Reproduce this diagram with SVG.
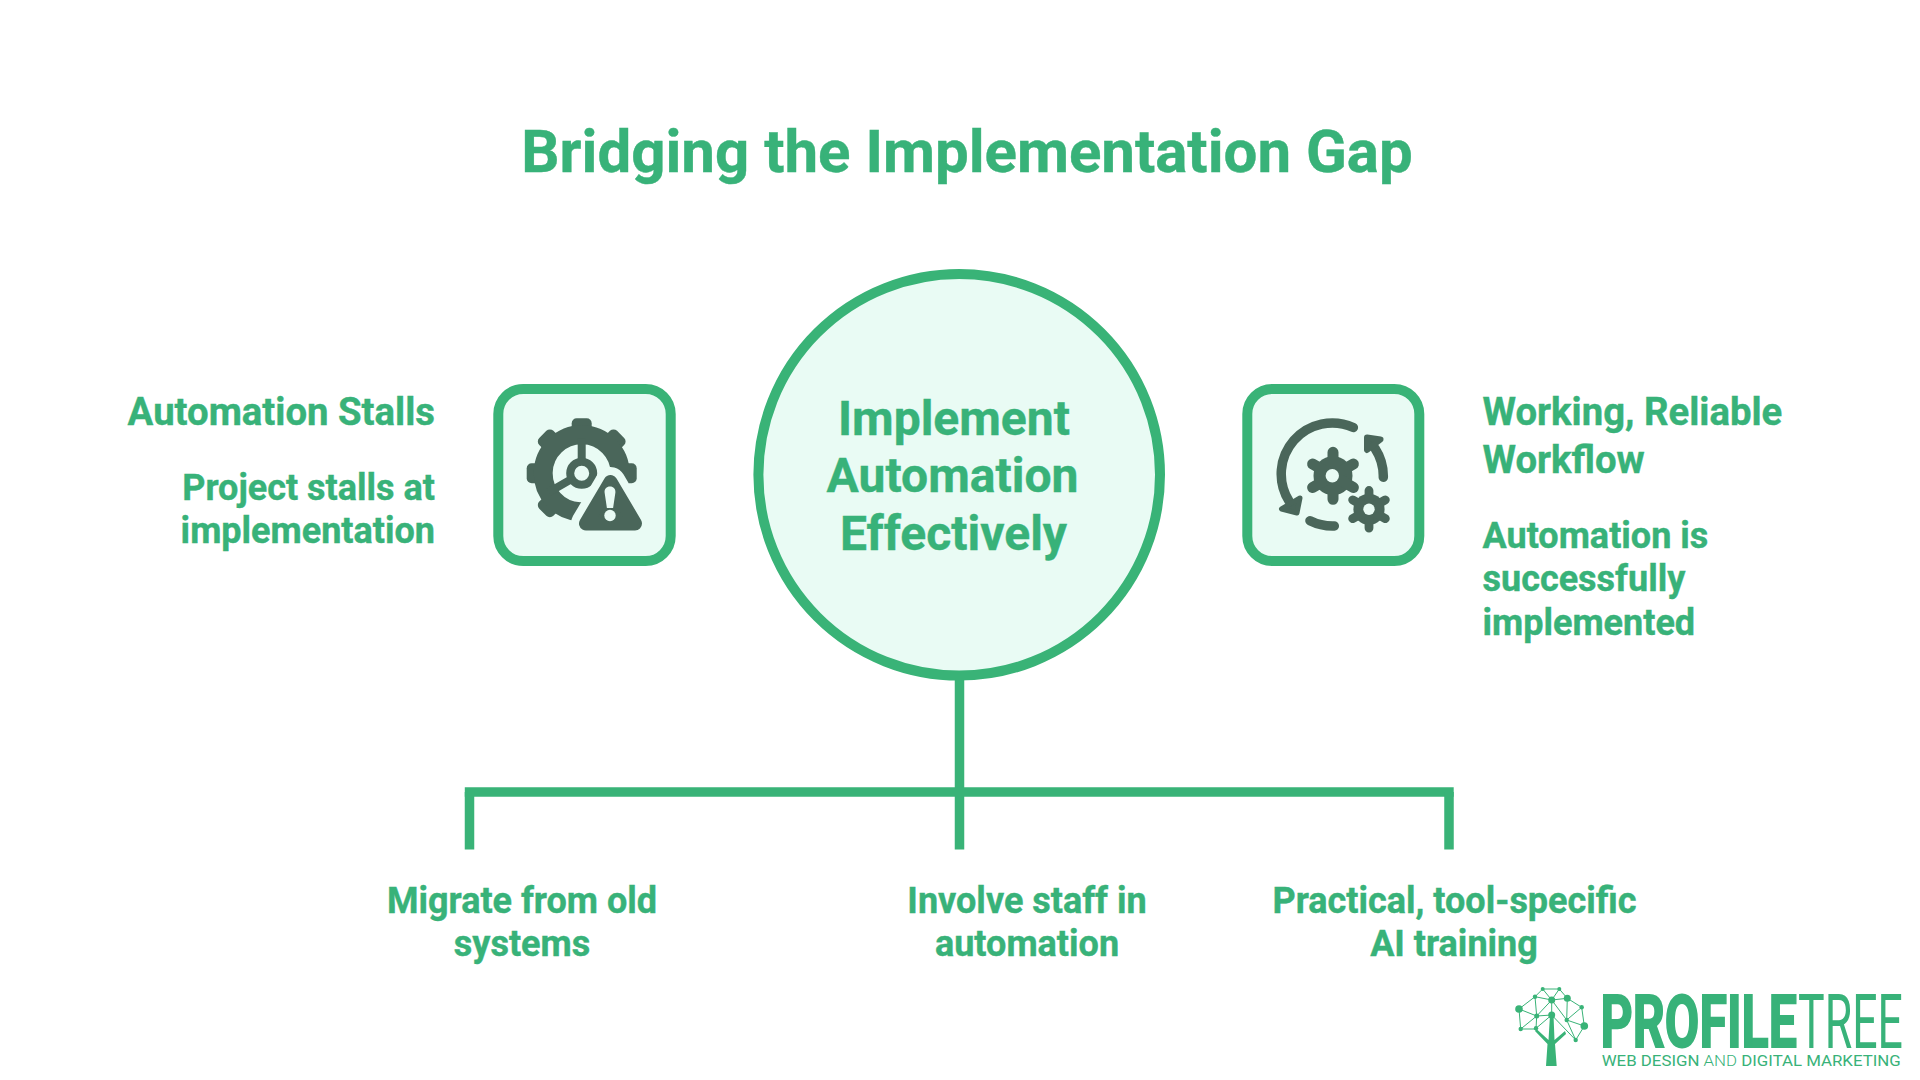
<svg xmlns="http://www.w3.org/2000/svg" width="1920" height="1080" viewBox="0 0 1920 1080">
<style>
text{font-family:Roboto,"Liberation Sans",sans-serif;font-weight:700;fill:#38b279;stroke:#38b279;stroke-width:.4}
.t{font-size:60px;text-anchor:middle}.c{font-size:48px;text-anchor:middle}.l{font-size:38.300px}.s{font-size:36px}
.e{text-anchor:end}.m{text-anchor:middle}
.box{fill:#e9fbf4;stroke:#39b377;stroke-width:10}
.ic{fill:#4a665a}.icr{fill:#4a665a;stroke:#4a665a;stroke-linejoin:round}
.ln{fill:none;stroke:#4a665a;stroke-width:9.500;stroke-linecap:round}
.hole{fill:#e9fbf4}
.wire{fill:none;stroke:#39b377;stroke-width:9.500}
.nt{fill:none;stroke:#39b377;stroke-width:1}
.nd{fill:#39b377}
.lg{font-family:'Liberation Sans Narrow',Roboto,sans-serif}
</style>
<defs>
<g id="gear6"><circle r="19.500" fill="#4a665a"/><path d="M0-23.500V23.500M-20.400-11.700 20.400 11.700M-20.400 11.700 20.400-11.700" fill="none" stroke="#4a665a" stroke-width="11" stroke-linecap="round"/></g>
<rect id="tooth" x="-10" y="-55" width="20" height="18" rx="5" fill="#4a665a"/>
</defs>
<rect width="1920" height="1080" fill="#fff"/>
<text class="t" x="967" y="171.700">Bridging the Implementation Gap</text>
<g id="connectors">
<path class="wire" d="M959.500 680V849.500"/>
<path class="wire" d="M464.800 792H1453.700"/>
<path class="wire" d="M469.500 792V849.500M1449 792V849.500"/>
</g>
<g id="hub"><circle cx="959.200" cy="474.800" r="200.800" fill="#e9fbf4" stroke="#39b377" stroke-width="10"/>
<text class="c" x="954" y="434.500">Implement</text><text class="c" x="952.500" y="492">Automation</text><text class="c" x="953.500" y="549.500">Effectively</text></g>
<g id="left-icon"><rect class="box" x="498.300" y="389" width="172.400" height="172" rx="25"/>
<g transform="translate(581.700 473.300)">
<use href="#tooth"/><use href="#tooth" transform="rotate(45)"/><use href="#tooth" transform="rotate(90)"/><use href="#tooth" transform="rotate(225)"/><use href="#tooth" transform="rotate(270)"/><use href="#tooth" transform="rotate(315)"/>
<path d="M38.500 0A38.500 38.500 0 1 0-2 38.500L8 38A38.500 38.500 0 0 0 38.500 0Z" fill="none" stroke="#4a665a" stroke-width="19"/>
<path d="M0-35V0L-33 19" fill="none" stroke="#4a665a" stroke-width="8"/>
<circle r="11.500" fill="#e9fbf4" stroke="#4a665a" stroke-width="8"/>
</g>
<path d="M610.500 482 586 523.500H635Z" fill="#e9fbf4" stroke="#e9fbf4" stroke-width="30" stroke-linejoin="round"/>
<path class="icr" stroke-width="14" d="M610.500 482 586 523.500H635Z"/>
<path class="hole" d="M610 486.500c-3.500 0-5.700 2.500-5.400 6l2.300 15.500h6.200l2.300-15.500c.3-3.500-1.900-6-5.400-6z"/><circle class="hole" cx="610" cy="515.500" r="5.700"/>
</g>
<g id="right-icon"><rect class="box" x="1247.300" y="389" width="172" height="172" rx="25"/>
<path class="ln" d="M1353.300 427.500A51 51 0 0 0 1289 501M1310 520.700A51 51 0 0 0 1334.300 526M1383.300 477.300A51 51 0 0 0 1375 448.300"/>
<path class="icr" stroke-width="5" d="M1300 498 1281.500 509 1297 513Z"/>
<path class="icr" stroke-width="6" d="M1367 437.500 1380.500 439.500 1367 450Z"/>
<use href="#gear6" transform="translate(1333 475.800)"/>
<circle class="hole" cx="1332.300" cy="475.700" r="6.700"/>
<use href="#gear6" transform="translate(1369 509.300) scale(.8)"/>
<circle class="hole" cx="1369" cy="509.300" r="5.700"/>
</g>
<g id="left-text"><text class="l e" x="435" y="425">Automation Stalls</text>
<text class="s e" x="435" y="499.500">Project stalls at</text><text class="s e" x="435" y="543">implementation</text></g>
<g id="right-text"><text class="l" x="1482.500" y="425">Working, Reliable</text><text class="l" x="1482.500" y="473">Workflow</text>
<text class="s" x="1482.500" y="548">Automation is</text><text class="s" x="1482.500" y="591">successfully</text><text class="s" x="1482.500" y="634.500">implemented</text></g>
<g id="branch-1"><text class="s m" x="522" y="912.700">Migrate from old</text><text class="s m" x="522" y="956">systems</text></g>
<g id="branch-2"><text class="s m" x="1027" y="912.700">Involve staff in</text><text class="s m" x="1027" y="956">automation</text></g>
<g id="branch-3"><text class="s m" x="1454.500" y="912.700">Practical, tool-specific</text><text class="s m" x="1454" y="956">AI training</text></g>
<g id="logo">
<text class="lg" transform="translate(1600.500 1047.300) scale(.758 1)" style="font-size:73px;stroke-width:2" textLength="259" lengthAdjust="spacingAndGlyphs">PROFILE</text>
<text class="lg" transform="translate(1798 1048.300) scale(.632 1)" style="font-size:76px;font-weight:400;stroke:none" textLength="166" lengthAdjust="spacingAndGlyphs">TREE</text>
<text x="1601.700" y="1066" style="font-size:15.500px;font-weight:400;stroke:none" textLength="299" lengthAdjust="spacingAndGlyphs">WEB DESIGN <tspan style="font-weight:300">AND</tspan> DIGITAL MARKETING</text>
<path class="nt" d="M1519 1009 1535 996.700 1542.700 989H1559.300L1567.300 998.300 1581.700 1007.300 1584.300 1026 1575.700 1040 1566.700 1020 1567.300 998.300 1551.700 1000 1566.700 1020 1581.700 1007.300M1566.700 1020 1584.300 1026M1519 1009 1520.700 1029H1536L1536.700 1016 1519 1009M1536.700 1016 1535 996.700 1551.700 1000 1542.700 989M1559.300 989 1551.700 1000 1536.700 1016 1551.700 1015 1575.700 1040M1551.700 1000V1015M1536 1028.300 1551.700 1015M1520.700 1029 1536.700 1016"/>
<g class="nd"><circle cx="1519" cy="1009" r="3.800"/><circle cx="1551.700" cy="1000" r="3.500"/><circle cx="1567.300" cy="998.300" r="3.500"/><circle cx="1551.700" cy="1015" r="3.500"/><circle cx="1584.300" cy="1026" r="3.800"/><circle cx="1542.700" cy="989" r="2"/><circle cx="1559.300" cy="989" r="2"/><circle cx="1535" cy="996.700" r="2.200"/><circle cx="1581.700" cy="1007.300" r="2.200"/><circle cx="1536.700" cy="1016" r="2.500"/><circle cx="1566.700" cy="1020" r="2.200"/><circle cx="1520.700" cy="1029" r="2.200"/><circle cx="1536" cy="1028.300" r="2.200"/><circle cx="1575.700" cy="1040" r="2.200"/></g>
<path class="nd" d="M1550 1015 1548.500 1040 1536.500 1029 1535 1031 1547.500 1044 1546 1066H1556.700L1555 1044 1566 1034 1565 1031 1554.500 1040 1553.500 1015Z"/>
</g>
</svg>
